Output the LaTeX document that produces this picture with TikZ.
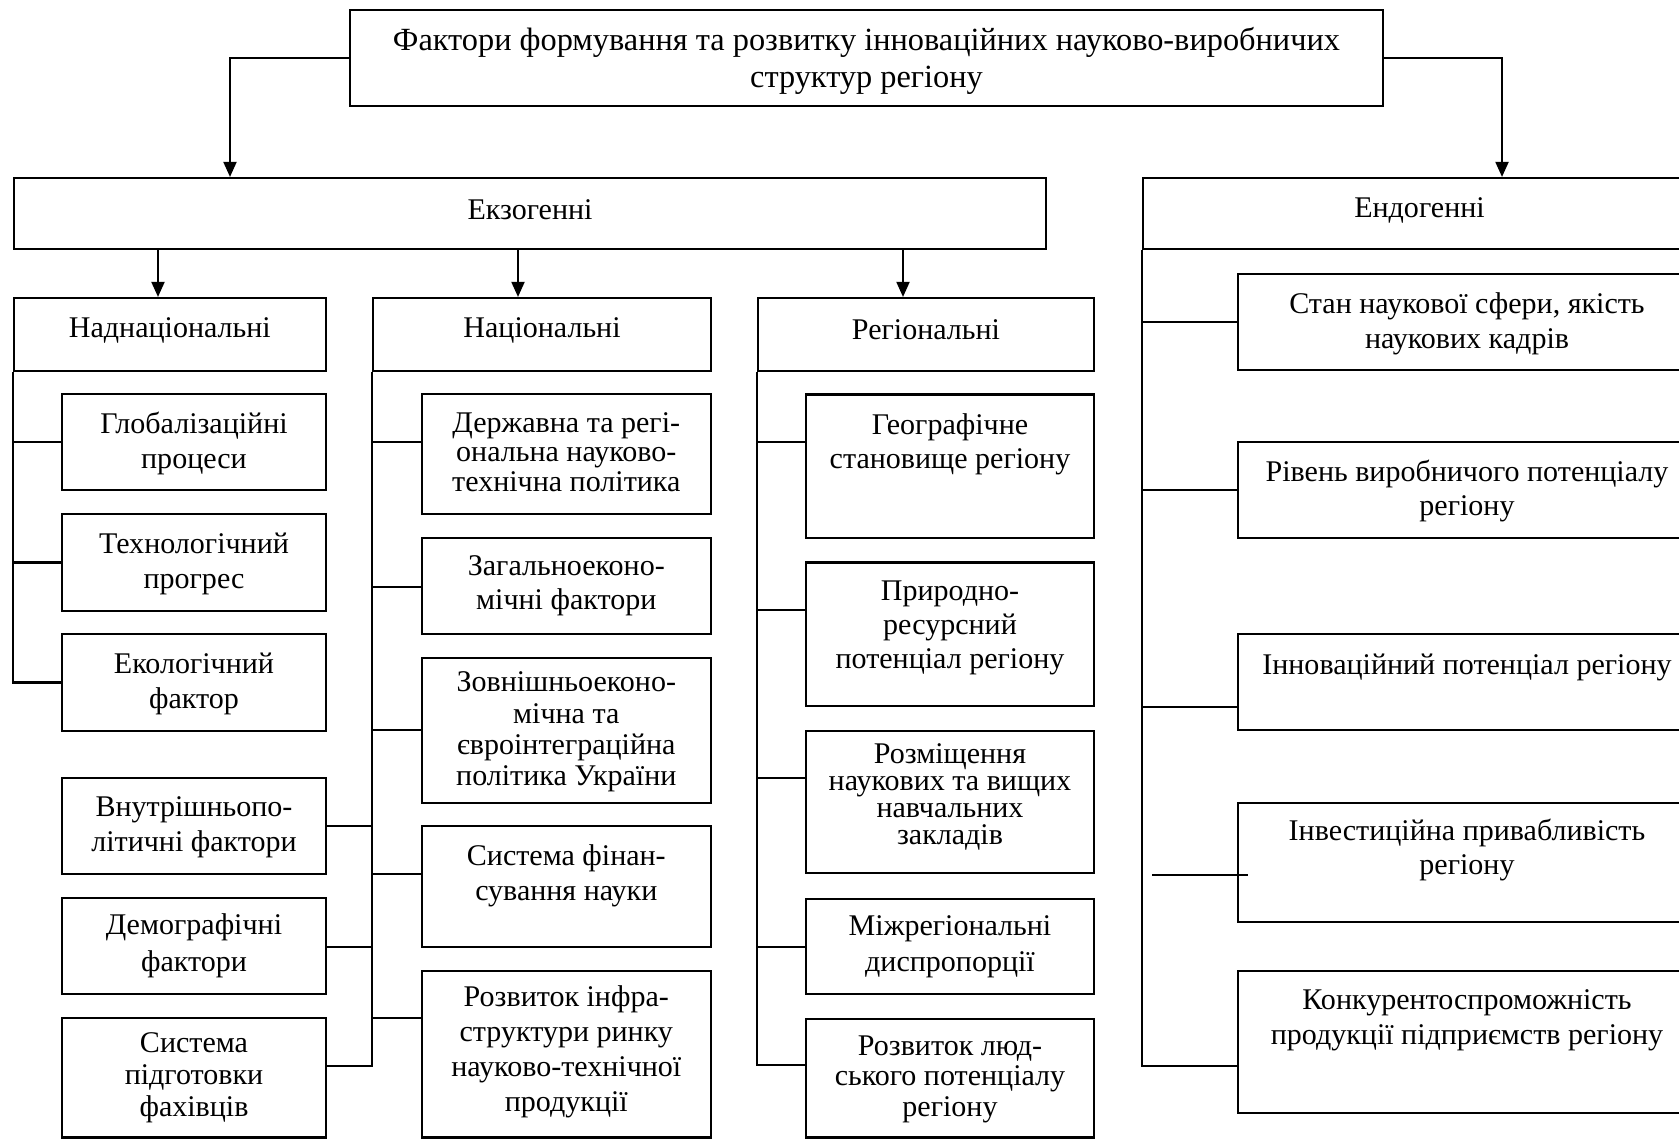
\documentclass[tikz,border=0pt]{standalone}
\usepackage{fontspec}
\setmainfont{Liberation Serif}
\usetikzlibrary{arrows.meta,fit}
\newcommand\myfs[2]{\fontsize{#1}{#2}\selectfont\lineskiplimit=-5pt\relax}
\tikzset{
  box/.style={draw, line width=0.6pt, inner sep=0pt},
  txt/.style={align=center, inner sep=0pt, font={\myfs{8.54pt}{#1}}},
  toptxt/.style={align=center, inner sep=0pt, font={\myfs{9.2pt}{10.36pt}}},
  link/.style={line width=0.6pt},
  arr/.style={line width=0.6pt, -{Triangle[length=4.3pt,width=3.7pt]}}
}
% name, x1, y1, x2, y2, text-center y, baselineskip, text
\newcommand\mkbox[8]{%
  \node[box, fit={(#2,#3) (#4,#5)}] (#1) {};
  \node[txt=#7] (#1-t) at ({(#2+#4)/2},#6) {#8};}
\begin{document}
\begin{tikzpicture}[x=0.01cm,y=-0.01cm]
\useasboundingbox (0,0) rectangle (1679,1138);
\clip (0,0) rectangle (1679,1138);

% top
\node[box, fit={(350,10) (1383,106)}] (top) {};
\node[toptxt] (top-t) at (866.5,61) {Фактори формування та розвитку інноваційних науково-виробничих\\структур регіону};

% level 2
\mkbox{ekzo}{14}{178}{1046}{249}{210}{9.7pt}{Екзогенні}
\mkbox{endo}{1143}{178}{1696}{249}{210}{9.7pt}{Ендогенні}

% level 3
\mkbox{naddn}{14}{298}{325.7}{370.7}{330}{9.7pt}{Наднаціональні}
\mkbox{nats}{373.3}{298}{710.8}{370.7}{330}{9.7pt}{Національні}
\mkbox{reg}{758}{298}{1094}{370.7}{330}{9.7pt}{Регіональні}

% column 1
\mkbox{glob}{62}{394}{326}{490}{443}{9.96pt}{Глобалізаційні\\процеси}
\mkbox{tech}{62}{514}{326}{611}{564}{9.96pt}{Технологічний\\прогрес}
\mkbox{ekolog}{62}{634}{326}{731}{684}{9.96pt}{Екологічний\\фактор}
\mkbox{vnutr}{62}{778}{326}{874}{827}{9.96pt}{Внутрішньопо-\\літичні фактори}
\mkbox{demogr}{62}{898}{326}{994}{946}{10.5pt}{Демографічні\\фактори}
\mkbox{syspidg}{62}{1018}{326}{1137.5}{1078}{9.1pt}{Система\\підготовки\\фахівців}

% column 2
\mkbox{derzh}{422}{394}{710.6}{514}{452}{8.4pt}{Державна та регі-\\ональна науково-\\технічна політика}
\mkbox{zahal}{422}{538}{710.6}{634}{586}{9.75pt}{Загальноеконо-\\мічні фактори}
\mkbox{zovn}{422}{658}{710.6}{803}{732}{8.93pt}{Зовнішньоеконо-\\мічна та\\євроінтеграційна\\політика України}
\mkbox{sysfin}{422}{826}{710.6}{947}{876}{9.96pt}{Система фінан-\\сування науки}
\mkbox{rozvinfra}{422}{971}{710.6}{1137.5}{1052}{9.9pt}{Розвиток інфра-\\структури ринку\\науково-технічної\\продукції}

% column 3
\mkbox{geogr}{806}{394.5}{1094}{538}{444}{9.67pt}{Географічне\\становище регіону}
\mkbox{pryrod}{806}{562.5}{1094}{706}{628}{9.67pt}{Природно-\\ресурсний\\потенціал регіону}
\mkbox{rozmishch}{806}{731}{1094}{873}{797}{7.75pt}{Розміщення\\наукових та вищих\\навчальних\\закладів}
\mkbox{mizhreg}{806}{899}{1094}{994}{947}{10.2pt}{Міжрегіональні\\диспропорції}
\mkbox{rozvlyud}{806}{1019}{1094}{1137.5}{1079}{8.7pt}{Розвиток люд-\\ського потенціалу\\регіону}

% column 4
\mkbox{stan}{1238}{274}{1696}{370}{324}{10.05pt}{Стан наукової сфери, якість\\наукових кадрів}
\mkbox{riven}{1238}{442}{1696}{538}{491}{9.67pt}{Рівень виробничого потенціалу\\регіону}
\mkbox{innov}{1238}{634}{1696}{730}{667}{9.67pt}{Інноваційний потенціал регіону}
\mkbox{invest}{1238}{803}{1696}{922}{850}{9.67pt}{Інвестиційна привабливість\\регіону}
\mkbox{konk}{1238}{971}{1696}{1113}{1020}{9.96pt}{Конкурентоспроможність\\продукції підприємств регіону}

% arrows
\draw[arr] (top.west |- 0,58) -| (ekzo.north -| 230,0);
\draw[arr] (top.east |- 0,58) -| (endo.north -| 1502,0);
\draw[arr] (ekzo.south -| 158,0) -- (naddn.north -| 158,0);
\draw[arr] (ekzo.south -| 518,0) -- (nats.north -| 518,0);
\draw[arr] (ekzo.south -| 903,0) -- (reg.north -| 903,0);

% column 1 links
\draw[link] (naddn.south west) |- (ekolog.west);
\draw[link] (naddn.south west |- glob.west) -- (glob.west);
\draw[link] (naddn.south west |- tech.west) -- (tech.west);

% column 2 links
\draw[link] (nats.south west) |- (syspidg.east |- 0,1066);
\draw[link] (nats.south west |- 0,442) -- (derzh.west |- 0,442);
\draw[link] (nats.south west |- 0,587) -- (zahal.west |- 0,587);
\draw[link] (nats.south west |- 0,730) -- (zovn.west |- 0,730);
\draw[link] (nats.south west |- 0,874) -- (sysfin.west |- 0,874);
\draw[link] (nats.south west |- 0,1018) -- (rozvinfra.west |- 0,1018);
\draw[link] (nats.south west |- 0,826) -- (vnutr.east |- 0,826);
\draw[link] (nats.south west |- 0,947) -- (demogr.east |- 0,947);

% column 3 links
\draw[link] (reg.south west) |- (rozvlyud.west |- 0,1065);
\draw[link] (reg.south west |- 0,442) -- (geogr.west |- 0,442);
\draw[link] (reg.south west |- 0,610) -- (pryrod.west |- 0,610);
\draw[link] (reg.south west |- 0,778) -- (rozmishch.west |- 0,778);
\draw[link] (reg.south west |- 0,947) -- (mizhreg.west |- 0,947);

% column 4 links
\draw[link] (endo.south west) |- (konk.west |- 0,1066);
\draw[link] (endo.south west |- 0,322) -- (stan.west |- 0,322);
\draw[link] (endo.south west |- 0,490) -- (riven.west |- 0,490);
\draw[link] (endo.south west |- 0,707) -- (innov.west |- 0,707);
\coordinate (invL) at (1152,875);
\coordinate (invR) at (1248,875);
\draw[link] (invL) -- (invR);
\end{tikzpicture}
\end{document}
